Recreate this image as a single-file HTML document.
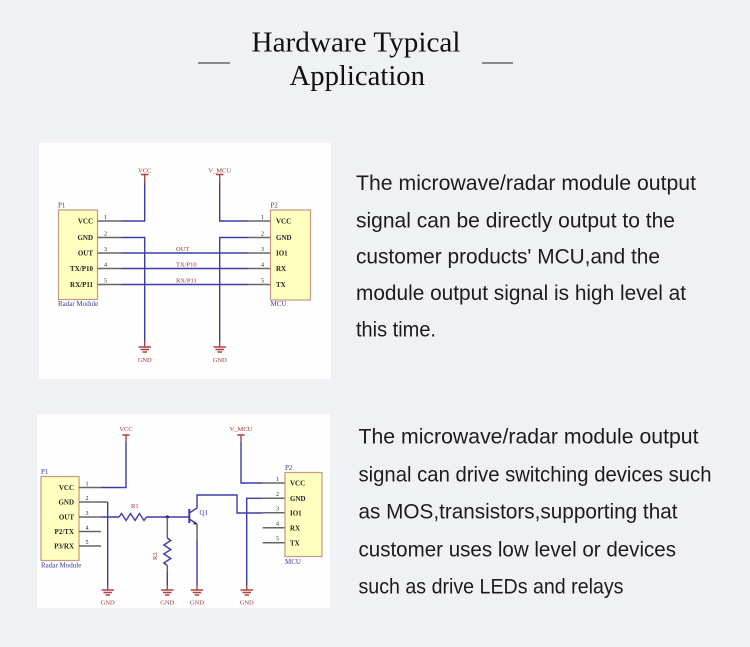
<!DOCTYPE html>
<html>
<head>
<meta charset="utf-8">
<style>
  html,body{margin:0;padding:0;background:#f0f1f5;}
  body{width:750px;height:647px;overflow:hidden;position:relative;}
  svg{position:absolute;left:0;top:0;}
  .t{font-family:"Liberation Sans",sans-serif;font-size:21px;fill:#1c1c1c;}
  .h{font-family:"Liberation Serif",serif;font-size:28.5px;fill:#111;}
  .s{font-family:"Liberation Serif",serif;font-size:7px;fill:#222;font-weight:bold;}
  .b{font-family:"Liberation Serif",serif;font-size:7px;fill:#3a3aa0;}
  .r{font-family:"Liberation Serif",serif;font-size:6.5px;fill:#a83030;}
  .n{font-family:"Liberation Serif",serif;font-size:6px;fill:#222;}
  .w{stroke:#3c3ca8;stroke-width:1.4;fill:none;}
  .p{stroke:#666;stroke-width:1.5;fill:none;}
  .rd{stroke:#b04040;stroke-width:1.4;fill:none;}
  .box{fill:#ffffbf;stroke:#c89880;stroke-width:1.2;}
</style>
</head>
<body>
<svg width="750" height="647" viewBox="0 0 750 647" xmlns="http://www.w3.org/2000/svg">
  <!-- Title -->
  <text class="h" x="251.5" y="51.5" textLength="209" lengthAdjust="spacingAndGlyphs">Hardware Typical</text>
  <text class="h" x="289.5" y="85" textLength="135.5" lengthAdjust="spacingAndGlyphs">Application</text>
  <line x1="198" y1="63" x2="230" y2="63" stroke="#222" stroke-width="1"/>
  <line x1="482" y1="63" x2="513" y2="63" stroke="#222" stroke-width="1"/>

  <!-- Paragraph 1 -->
  <text class="t" x="356" y="190" textLength="340" lengthAdjust="spacingAndGlyphs">The microwave/radar module output</text>
  <text class="t" x="356" y="227.5" textLength="319" lengthAdjust="spacingAndGlyphs">signal can be directly output to the</text>
  <text class="t" x="356" y="263.5" textLength="304" lengthAdjust="spacingAndGlyphs">customer products' MCU,and the</text>
  <text class="t" x="356" y="300" textLength="330" lengthAdjust="spacingAndGlyphs">module output signal is high level at</text>
  <text class="t" x="356" y="336.5" textLength="80" lengthAdjust="spacingAndGlyphs">this time.</text>

  <!-- Paragraph 2 -->
  <text class="t" x="358.5" y="443.5" textLength="340" lengthAdjust="spacingAndGlyphs">The microwave/radar module output</text>
  <text class="t" x="358.5" y="481.5" textLength="353" lengthAdjust="spacingAndGlyphs">signal can drive switching devices such</text>
  <text class="t" x="358.5" y="518.5" textLength="319" lengthAdjust="spacingAndGlyphs">as MOS,transistors,supporting that</text>
  <text class="t" x="358.5" y="556.5" textLength="317.5" lengthAdjust="spacingAndGlyphs">customer uses low level or devices</text>
  <text class="t" x="358.5" y="593.5" textLength="265" lengthAdjust="spacingAndGlyphs">such as drive LEDs and relays</text>

  <!-- ============ Schematic 1 ============ -->
  <rect x="39" y="143" width="292" height="236" fill="#fefefe"/>
  <!-- P1 -->
  <rect class="box" x="58.5" y="210" width="39" height="89.5"/>
  <text class="b" x="58" y="207.5">P1</text>
  <text class="b" x="58" y="306" font-size="6.5">Radar Module</text>
  <g class="s" text-anchor="end">
    <text x="93" y="223.5">VCC</text>
    <text x="93" y="240">GND</text>
    <text x="93" y="255.5">OUT</text>
    <text x="93" y="271">TX/P10</text>
    <text x="93" y="287">RX/P11</text>
  </g>
  <g class="p">
    <path d="M97.5 221H121M97.5 237.5H121M97.5 253H121M97.5 268.5H121M97.5 284.5H121"/>
  </g>
  <g class="n">
    <text x="104" y="219">1</text><text x="104" y="235.5">2</text><text x="104" y="251">3</text><text x="104" y="266.5">4</text><text x="104" y="282.5">5</text>
  </g>
  <!-- wires -->
  <path class="w" d="M121 221H144.7V183"/>
  <path class="w" d="M121 237.5H144.7V341"/>
  <path class="w" d="M121 253H248M121 268.5H248M121 284.5H248"/>
  <path class="w" d="M248 221H219.7V183"/>
  <path class="w" d="M248 237.5H219.7V341"/>
  <!-- power symbols -->
  <path class="rd" d="M144.7 183V174.5M141 174.5H148.5"/>
  <text class="r" x="144.7" y="172.5" text-anchor="middle">VCC</text>
  <path class="rd" d="M219.7 183V174.5M216 174.5H223.5"/>
  <text class="r" x="219.7" y="172.5" text-anchor="middle">V_MCU</text>
  <!-- GND symbols -->
  <path class="rd" d="M144.7 341V347M138.5 347H151M140.5 349.5H149M142.5 352H147"/>
  <text class="r" x="144.7" y="362" text-anchor="middle">GND</text>
  <path class="rd" d="M219.7 341V347M213.5 347H226M215.5 349.5H224M217.5 352H222"/>
  <text class="r" x="219.7" y="362" text-anchor="middle">GND</text>
  <!-- net labels -->
  <text class="r" x="176" y="251" font-size="5">OUT</text>
  <text class="r" x="176" y="266.5" font-size="5">TX/P10</text>
  <text class="r" x="176" y="282.5" font-size="5">RX/P11</text>
  <!-- P2 -->
  <g class="p">
    <path d="M248 221H270.5M248 237.5H270.5M248 253H270.5M248 268.5H270.5M248 284.5H270.5"/>
  </g>
  <g class="n">
    <text x="261" y="219">1</text><text x="261" y="235.5">2</text><text x="261" y="251">3</text><text x="261" y="266.5">4</text><text x="261" y="282.5">5</text>
  </g>
  <rect class="box" x="270.5" y="210" width="40" height="90"/>
  <text class="b" x="270.5" y="207.5">P2</text>
  <text class="b" x="270.5" y="306" font-size="6.5">MCU</text>
  <g class="s">
    <text x="276" y="223.5">VCC</text>
    <text x="276" y="240">GND</text>
    <text x="276" y="255.5">IO1</text>
    <text x="276" y="271">RX</text>
    <text x="276" y="287">TX</text>
  </g>

  <!-- ============ Schematic 2 ============ -->
  <rect x="37" y="414" width="293" height="194" fill="#fefefe"/>
  <!-- P1 -->
  <rect class="box" x="41" y="476.5" width="38" height="84"/>
  <text class="b" x="41" y="474">P1</text>
  <text class="b" x="41" y="567.5" font-size="6.5">Radar Module</text>
  <g class="s" text-anchor="end">
    <text x="74" y="490">VCC</text>
    <text x="74" y="504.5">GND</text>
    <text x="74" y="519.5">OUT</text>
    <text x="74" y="534">P2/TX</text>
    <text x="74" y="548.5">P3/RX</text>
  </g>
  <g class="p">
    <path d="M79 487.5H101M79 502H107.7M79 517H101M79 531.5H101M79 546H101"/>
  </g>
  <g class="n">
    <text x="85.5" y="485.5">1</text><text x="85.5" y="500">2</text><text x="85.5" y="515">3</text><text x="85.5" y="529.5">4</text><text x="85.5" y="544">5</text>
  </g>
  <!-- VCC -->
  <path class="w" d="M101 487.5H126V442"/>
  <path class="rd" d="M126 442V435M122.3 435H129.7"/>
  <text class="r" x="126" y="431" text-anchor="middle">VCC</text>
  <!-- GND from P1 -->
  <path class="w" d="M107.7 502V585"/>
  <path class="rd" d="M107.7 585V590M101.5 590H114M103.5 592.5H112M105.5 595H110"/>
  <text class="r" x="107.7" y="604.5" text-anchor="middle">GND</text>
  <!-- OUT -> R1 -> base -->
  <path class="w" d="M101 517H119"/>
  <path class="w" d="M119 517l2.5 -3.5l4.5 7l4.5 -7l4.5 7l4.5 -7l4.5 7l2.5 -3.5"/>
  <path class="w" d="M146.5 517H189.3"/>
  <circle cx="167.3" cy="517" r="1.6" fill="#20206a"/>
  <text class="r" x="131" y="508" font-size="4.5">R1</text>
  <!-- R2 -->
  <path class="p" d="M167.3 517V538" stroke-width="1.3"/>
  <path class="w" d="M167.3 538l3.5 2.5l-7 4.5l7 4.5l-7 4.5l7 4.5l-7 4.5l3.5 2.5"/>
  <path class="p" d="M167.3 565.5V572" stroke-width="1.3"/>
  <path class="w" d="M167.3 572V585"/>
  <text class="r" x="157" y="560" font-size="4.5" transform="rotate(-90 157 560)">R2</text>
  <path class="rd" d="M167.3 585V590M161 590H173.5M163 592.5H171.5M165 595H169.5"/>
  <text class="r" x="167.3" y="604.5" text-anchor="middle">GND</text>
  <!-- Q1 -->
  <path d="M189.3 509V523" stroke="#3c3ca8" stroke-width="2"/>
  <path class="w" d="M189.3 513L197 508V495H237V513H262.7"/>
  <path class="w" d="M189.3 519L197 524"/>
  <path d="M197 524.5l-3.8 -0.3l1.6 -2.6z" fill="#20206a"/>
  <path class="p" d="M197 524V540" stroke-width="1.3"/>
  <path class="w" d="M197 540V585"/>
  <text class="b" x="199.5" y="515" font-size="6" fill="#222">Q1</text>
  <path class="rd" d="M197 585V590M190.7 590H203.2M192.7 592.5H201.2M194.7 595H199.2"/>
  <text class="r" x="197" y="604.5" text-anchor="middle">GND</text>
  <!-- V_MCU -->
  <path class="w" d="M241 442V483H262.7"/>
  <path class="rd" d="M241 442V435M237.3 435H244.7"/>
  <text class="r" x="241" y="431" text-anchor="middle">V_MCU</text>
  <!-- P2 GND -->
  <path class="w" d="M262.7 498.3H246.7V585"/>
  <path class="rd" d="M246.7 585V590M240.5 590H253M242.5 592.5H251M244.5 595H249"/>
  <text class="r" x="246.7" y="604.5" text-anchor="middle">GND</text>
  <!-- P2 -->
  <g class="p">
    <path d="M262.7 483H285M262.7 498.3H285M262.7 512.8H285M262.7 527.7H285M262.7 542.7H285"/>
  </g>
  <g class="n">
    <text x="276" y="481">1</text><text x="276" y="496">2</text><text x="276" y="510.5">3</text><text x="276" y="525.5">4</text><text x="276" y="540.5">5</text>
  </g>
  <rect class="box" x="285" y="472.5" width="37" height="84"/>
  <text class="b" x="285" y="470">P2</text>
  <text class="b" x="285" y="564" font-size="6.5">MCU</text>
  <g class="s">
    <text x="290" y="485.5">VCC</text>
    <text x="290" y="501">GND</text>
    <text x="290" y="515.5">IO1</text>
    <text x="290" y="530.5">RX</text>
    <text x="290" y="545.5">TX</text>
  </g>
</svg>
</body>
</html>
